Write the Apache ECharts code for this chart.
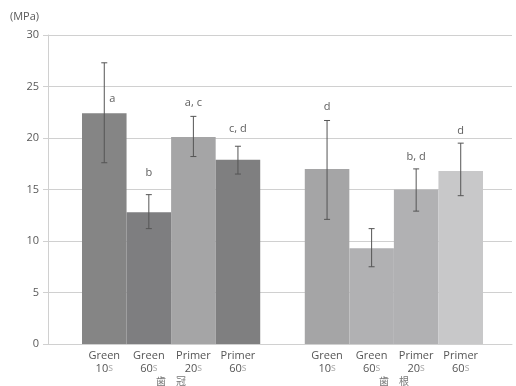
<!DOCTYPE html>
<html>
<head>
<meta charset="utf-8">
<script src="https://cdn.jsdelivr.net/npm/echarts@6/dist/echarts.min.js"></script>
<style>html,body{margin:0;padding:0;background:#fff}#c{width:516px;height:386px}</style>
</head>
<body>
<div id="c"></div>
<script>
const names = ['Green', 'Green', 'Primer', 'Primer', '', 'Green', 'Green', 'Primer', 'Primer'];
const times = ['10', '60', '20', '60', '', '10', '60', '20', '60'];
const groups = ['歯　冠', '歯　根'];
const means = [22.4, 12.8, 20.1, 17.9, null, 17.0, 9.3, 15.0, 16.8];
const errLow = [17.6, 11.2, 18.2, 16.5, null, 12.1, 7.5, 12.9, 14.4];
const errHigh = [27.3, 14.5, 22.1, 19.2, null, 21.7, 11.2, 17.0, 19.5];
const letters = ['a', 'b', 'a, c', 'c, d', '', 'd', '', 'b, d', 'd'];
const letterAt = [23.8, 16.6, 23.4, 20.9, null, 23.0, null, 18.2, 20.7];
const colors = ['#858585', '#7e7e80', '#a5a5a6', '#7f7f80', '#fff', '#a5a5a6', '#b1b1b3', '#b1b1b3', '#c8c8c9'];
const yTicks = [0, 5, 10, 15, 20, 25, 30];

const cats = names.map((n, i) => i);
const chart = echarts.init(document.getElementById('c'));
chart.setOption({
  animation: false,
  grid: [
    {left: 48, right: 4, top: 35, bottom: 42},
    {left: 82, width: 401, top: 35, bottom: 42}
  ],
  xAxis: [
    {gridIndex: 0, type: 'value', min: 0, max: 1, axisLine: {show: true, lineStyle: {color: '#d0d0d0'}},
     axisTick: {show: false}, axisLabel: {show: false}, splitLine: {show: false}},
    {gridIndex: 1, type: 'category', data: cats, axisLine: {show: false}, axisTick: {show: false},
     axisLabel: {interval: 0, margin: 5, lineHeight: 13,
       formatter: function (v) { const i = +v; if (!names[i]) return ''; return '{a|' + names[i] + '}\n{a|' + times[i] + '}{s|s}'; },
       rich: {a: {fontSize: 11, color: '#555', fontFamily: 'Open Sans', lineHeight: 13},
              s: {fontSize: 10, color: '#aaa', fontFamily: 'Open Sans', lineHeight: 13}}}},
    {gridIndex: 1, type: 'value', min: 0, max: 9, interval: 1, position: 'bottom',
     axisLine: {show: false}, axisTick: {show: false}, splitLine: {show: false},
     axisLabel: {margin: 32, fontSize: 10, color: '#777', fontFamily: 'Noto Sans CJK JP',
       formatter: function (v) { if (v === 2) return groups[0]; if (v === 7) return groups[1]; return ''; }}}
  ],
  yAxis: [
    {gridIndex: 0, type: 'value', min: 0, max: 30, interval: 5,
     axisLine: {show: true, lineStyle: {color: '#d0d0d0'}}, axisTick: {show: true, length: 5, lineStyle: {color: '#d0d0d0'}, inside: false},
     axisLabel: {color: '#595959', fontSize: 11, fontFamily: 'Open Sans', margin: 9,
       formatter: function (v) { return yTicks.indexOf(v) >= 0 ? String(v) : ''; }},
     splitLine: {lineStyle: {color: '#d0d0d0'}},
     name: '(MPa)', nameLocation: 'end', nameGap: 13,
     nameTextStyle: {color: '#595959', fontSize: 11, fontFamily: 'Open Sans', align: 'right', padding: [0, 9, 0, 0]}},
    {gridIndex: 1, type: 'value', min: 0, max: 30, interval: 5, show: false}
  ],
  series: [
    {type: 'bar', xAxisIndex: 1, yAxisIndex: 1, barWidth: '100%',
     data: means.map((v, i) => ({value: v, itemStyle: {color: colors[i]}}))},
    {type: 'custom', xAxisIndex: 1, yAxisIndex: 1, z: 5,
     data: means.map((v, i) => [i, errLow[i], errHigh[i]]).filter(d => d[1] != null),
     renderItem: function (params, api) {
       const x = api.value(0);
       const lo = api.coord([x, api.value(1)]);
       const hi = api.coord([x, api.value(2)]);
       const hw = 3;
       const st = {stroke: '#555', lineWidth: 1};
       return {type: 'group', children: [
         {type: 'line', shape: {x1: lo[0], y1: lo[1], x2: hi[0], y2: hi[1]}, style: st},
         {type: 'line', shape: {x1: lo[0] - hw, y1: lo[1], x2: lo[0] + hw, y2: lo[1]}, style: st},
         {type: 'line', shape: {x1: hi[0] - hw, y1: hi[1], x2: hi[0] + hw, y2: hi[1]}, style: st}
       ]};
     }},
    {type: 'scatter', xAxisIndex: 1, yAxisIndex: 1, symbolSize: 0, z: 6,
     data: letterAt.map((v, i) => ({value: [i, v], name: letters[i],
       label: {offset: [i === 0 ? 8 : 0, 0]}})).filter(d => d.value[1] != null),
     label: {show: true, position: 'inside', color: '#333', fontSize: 11, fontFamily: 'Open Sans',
       formatter: function (p) { return p.name; }}}
  ]
});
</script>
</body>
</html>
